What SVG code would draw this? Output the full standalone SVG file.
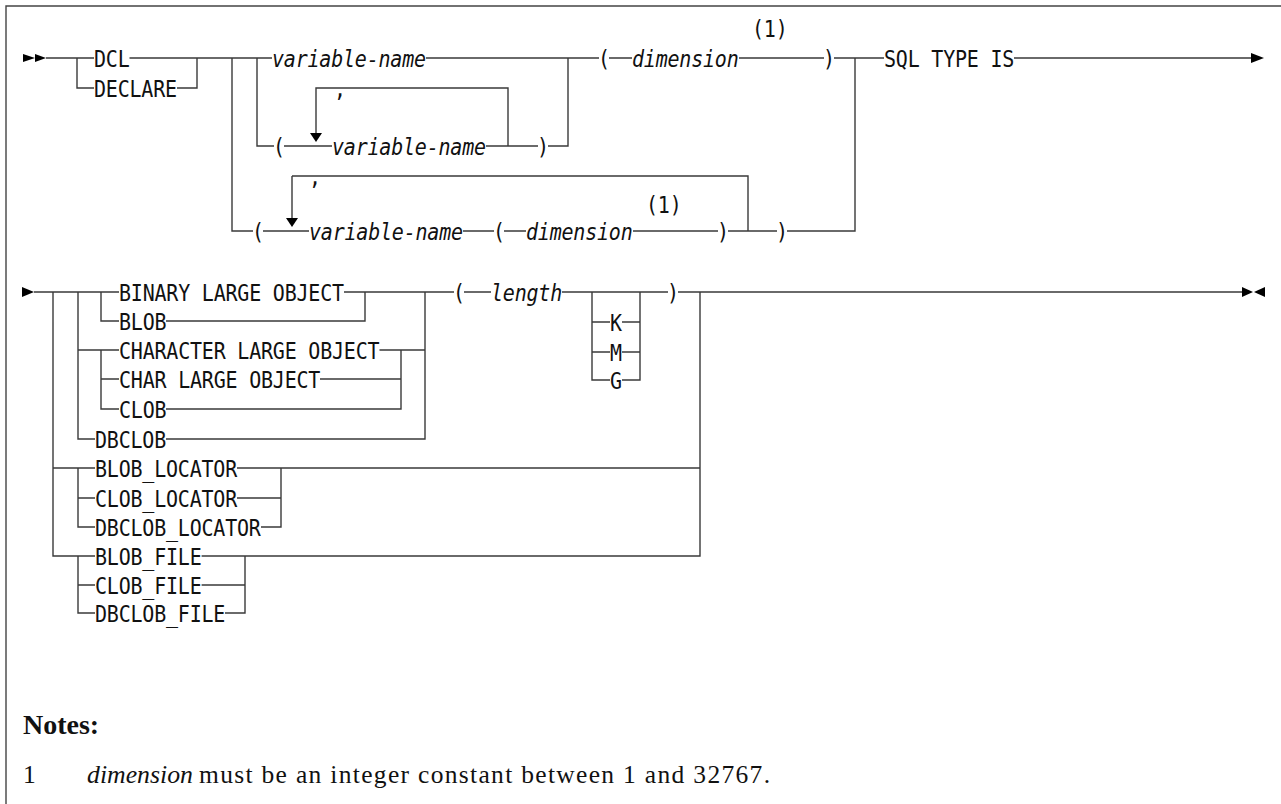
<svg xmlns="http://www.w3.org/2000/svg" width="1281" height="804" viewBox="0 0 1281 804">
<style>
.ln{fill:none;stroke:#3a3a3a;stroke-width:1.4}
.fr{fill:none;stroke:#444;stroke-width:1.4}
.ar{fill:#000;stroke:none}
.t{font-family:"DejaVu Sans Mono",monospace;font-size:20px;letter-spacing:-0.2px;fill:#111;transform-box:fill-box;transform-origin:center;transform:scaleY(1.12)}
.i{font-style:italic}
.c{text-anchor:middle;letter-spacing:0}
.nb{font-family:"Liberation Serif",serif;font-weight:bold;font-size:28px;fill:#111}
.nt{font-family:"Liberation Serif",serif;font-size:25.5px;fill:#111}
</style>
<rect width="1281" height="804" fill="#fff"/>
<path class="fr" d="M6 804 V6 H1281"/>
<g id="connectors">
<polygon class="ar" points="23,54 35,58 23,62"/>
<polygon class="ar" points="35,54 46,58 35,62"/>
<path class="ln" d="M46 58 H94 M77 58 V88 H94 M129.5 58 H197 M177 88 H197 V58 M197 58 H272"/>
<path class="ln" d="M232 58 V231 H253 M257 58 V146 H274"/>
<path class="ln" d="M426 58 H599 M548 146 H568 V58 M609 58 H632 M739 58 H824 M834 58 H884 M1014 58 H1252"/>
<polygon class="ar" points="1251,53 1264,58 1251,63"/>
<path class="ln" d="M855 58 V231 H787"/>
<path class="ln" d="M284 146 H332 M316 134 V88 H508 V146 M486 146 H538"/>
<polygon class="ar" points="310,133 322,133 316,142"/>
<path class="ln" d="M263 231 H309 M292 176 V218 M292 176 H748 V231 M463 231 H494 M504 231 H526 M633 231 H718 M728 231 H777"/>
<polygon class="ar" points="286,218 298,218 292,227"/>
<polygon class="ar" points="22,287 34,292 22,297"/>
<path class="ln" d="M34 292 H119 M53 292 V556 H95 M78 292 V439 H95 M101 292 V321 H119 M344 292 H454 M166 321 H365 V292"/>
<path class="ln" d="M78 350 H119 M379.5 350 H425 M101 350 V409 H119 M101 379 H119 M320 379 H401 M166 409 H401 V350 M166 439 H425 V292"/>
<path class="ln" d="M464 292 H491 M562 292 H668 M678 292 H1242"/>
<path class="ln" d="M592 292 V380 H610 M592 322 H610 M592 352 H610 M622 322 H640 M622 352 H640 M622 380 H640 V292"/>
<polygon class="ar" points="1242,287 1253,292 1242,297"/>
<polygon class="ar" points="1265,287 1254,292 1265,297"/>
<path class="ln" d="M700 292 V556 H201.6 M237 468 H700 M53 468 H95 M78 468 V527 H95 M78 498 H95 M237 498 H281 M261 527 H281 V468"/>
<path class="ln" d="M78 556 V613 H95 M78 585 H95 M201.6 585 H245 M225 613 H245 V556"/>
</g>
<g id="n-dcl"><text class="t" x="94" y="66">DCL</text></g>
<g id="n-declare"><text class="t" x="94" y="96">DECLARE</text></g>
<g id="n-varname1"><text class="t i" x="272" y="66">variable-name</text></g>
<g id="n-lp1"><text class="t c" x="279" y="154">(</text></g>
<g id="n-comma1"><text class="t c" x="340" y="96">,</text></g>
<g id="n-varname2"><text class="t i" x="332" y="154">variable-name</text></g>
<g id="n-rp1"><text class="t c" x="543" y="154">)</text></g>
<g id="n-lp2"><text class="t c" x="604" y="66">(</text></g>
<g id="n-dim1"><text class="t i" x="632" y="66">dimension</text></g>
<g id="n-note1a"><text class="t" x="752" y="36">(1)</text></g>
<g id="n-rp2"><text class="t c" x="829" y="66">)</text></g>
<g id="n-sqltype"><text class="t" x="884" y="66">SQL TYPE IS</text></g>
<g id="n-lp3"><text class="t c" x="258" y="239">(</text></g>
<g id="n-comma2"><text class="t c" x="315" y="184">,</text></g>
<g id="n-varname3"><text class="t i" x="309" y="239">variable-name</text></g>
<g id="n-lp4"><text class="t c" x="499" y="239">(</text></g>
<g id="n-dim2"><text class="t i" x="526" y="239">dimension</text></g>
<g id="n-note1b"><text class="t" x="646" y="212">(1)</text></g>
<g id="n-rp3"><text class="t c" x="723" y="239">)</text></g>
<g id="n-rp4"><text class="t c" x="782" y="239">)</text></g>
<g id="n-blo"><text class="t" x="119" y="300">BINARY LARGE OBJECT</text></g>
<g id="n-blob"><text class="t" x="119" y="329">BLOB</text></g>
<g id="n-clo"><text class="t" x="119" y="358">CHARACTER LARGE OBJECT</text></g>
<g id="n-charlo"><text class="t" x="119" y="387">CHAR LARGE OBJECT</text></g>
<g id="n-clob"><text class="t" x="119" y="417">CLOB</text></g>
<g id="n-dbclob"><text class="t" x="95" y="447">DBCLOB</text></g>
<g id="n-lp5"><text class="t c" x="459" y="300">(</text></g>
<g id="n-length"><text class="t i" x="491" y="300">length</text></g>
<g id="n-k"><text class="t c" x="616" y="330">K</text></g>
<g id="n-m"><text class="t c" x="616" y="360">M</text></g>
<g id="n-g"><text class="t c" x="616" y="388">G</text></g>
<g id="n-rp5"><text class="t c" x="673" y="300">)</text></g>
<g id="n-blobloc"><text class="t" x="95" y="476">BLOB_LOCATOR</text></g>
<g id="n-clobloc"><text class="t" x="95" y="506">CLOB_LOCATOR</text></g>
<g id="n-dbclobloc"><text class="t" x="95" y="535">DBCLOB_LOCATOR</text></g>
<g id="n-blobfile"><text class="t" x="95" y="564">BLOB_FILE</text></g>
<g id="n-clobfile"><text class="t" x="95" y="593">CLOB_FILE</text></g>
<g id="n-dbclobfile"><text class="t" x="95" y="621">DBCLOB_FILE</text></g>
<g id="notes">
<text class="nb" x="23" y="734">Notes:</text>
<text class="nt" x="23" y="783">1</text>
<text class="nt" x="87" y="783" font-style="italic" textLength="106" lengthAdjust="spacingAndGlyphs">dimension</text>
<text class="nt" x="199" y="783" textLength="571" lengthAdjust="spacing">must be an integer constant between 1 and 32767.</text>
</g>
</svg>
